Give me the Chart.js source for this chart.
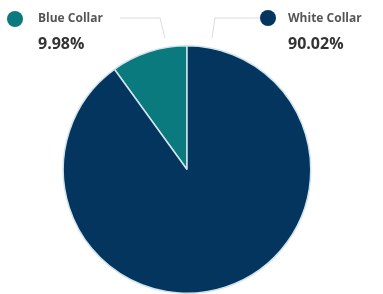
<!DOCTYPE html>
<html>
<head>
<meta charset="utf-8">
<script src="https://cdn.jsdelivr.net/npm/chart.js@4"></script>
<style>
  html, body { margin: 0; padding: 0; background: #fff; }
  #wrap { width: 383px; height: 294px; }
</style>
</head>
<body>
<div id="wrap"><canvas id="pieChart"></canvas></div>
<script>
"use strict";

// data
const categories = ["Blue Collar", "White Collar"];
const shares = [9.98, 90.02];
const sliceColors = ["#0b7a7f", "#03355f"];

// legend labels with leader lines, drawn on top of the pie
const calloutLabels = {
  id: "calloutLabels",
  afterDraw(chart) {
    const ctx = chart.ctx;
    const spots = [
      { dot: [15, 19], text: 38, line: [[120, 18], [160, 18], [165, 38]] },
      { dot: [268, 18], text: 288, line: [[260, 18], [215, 18], [212, 38]] },
    ];
    ctx.save();
    categories.forEach((name, i) => {
      const s = spots[i];
      ctx.strokeStyle = "#dcdcdc";
      ctx.lineWidth = 1;
      ctx.beginPath();
      s.line.forEach((p, k) => (k ? ctx.lineTo(p[0], p[1]) : ctx.moveTo(p[0], p[1])));
      ctx.stroke();

      ctx.fillStyle = sliceColors[i];
      ctx.beginPath();
      ctx.arc(s.dot[0], s.dot[1], 8, 0, Math.PI * 2);
      ctx.fill();

      ctx.textBaseline = "middle";
      ctx.fillStyle = "#555";
      ctx.font = "bold 12px 'Open Sans'";
      ctx.fillText(name, s.text, 19);
      ctx.fillStyle = "#333";
      ctx.font = "bold 16px 'Open Sans'";
      ctx.fillText(shares[i].toFixed(2) + "%", s.text, 44);
    });
    ctx.restore();
  },
};

const config = {
  type: "pie",
  data: {
    labels: categories,
    datasets: [
      {
        data: shares,
        backgroundColor: sliceColors,
        borderColor: "#cfe3ea",
        borderWidth: 1.5,
      },
    ],
  },
  options: {
    responsive: true,
    maintainAspectRatio: false,
    animation: false,
    rotation: -shares[0] * 3.6,
    layout: {
      padding: { top: 45, bottom: 0, left: 62, right: 71 },
    },
    plugins: {
      legend: { display: false },
      tooltip: { enabled: false },
    },
  },
  plugins: [calloutLabels],
};

const myChart = new Chart(document.getElementById("pieChart"), config);
</script>
</body>
</html>
